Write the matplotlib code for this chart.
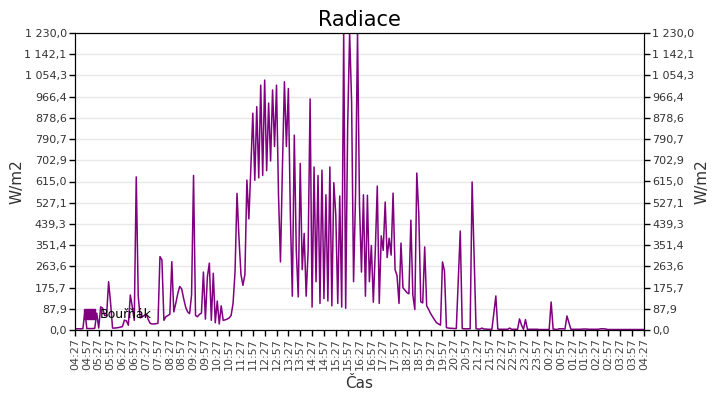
import numpy as np
import matplotlib
matplotlib.use("Agg")
import matplotlib.pyplot as plt
from matplotlib.patches import Patch

# radiation values, one every 5 minutes from 04:27 to 04:27 next day
h00 = [5, 5, 5, 5, 6, 76, 6, 6, 6, 6, 7, 70]
h01 = [8, 96, 90, 60, 60, 200, 113, 8, 8, 9, 10, 12]
h02 = [14, 41, 38, 20, 145, 96, 40, 634, 141, 50, 55, 60]
h03 = [66, 45, 28, 25, 25, 26, 28, 304, 290, 40, 55, 60]
h04 = [65, 283, 75, 110, 150, 180, 170, 130, 95, 75, 68, 145]
h05 = [640, 60, 55, 65, 70, 240, 45, 220, 277, 40, 235, 30]
h06 = [120, 25, 100, 40, 42, 45, 50, 60, 110, 240, 566, 380]
h07 = [230, 185, 230, 621, 460, 670, 898, 620, 925, 630, 1014, 640]
h08 = [1035, 660, 940, 700, 994, 760, 1014, 560, 282, 680, 1028, 760]
h09 = [1000, 480, 140, 807, 330, 137, 690, 250, 400, 140, 330, 957]
h10 = [95, 675, 200, 640, 110, 662, 130, 560, 120, 675, 100, 610]
h11 = [476, 110, 555, 95, 1230, 90, 841, 1230, 945, 200, 560, 1230]
h12 = [520, 240, 560, 140, 558, 200, 350, 115, 330, 596, 110, 390]
h13 = [330, 530, 300, 380, 310, 567, 250, 225, 110, 360, 175, 165]
h14 = [155, 150, 455, 145, 85, 650, 484, 117, 112, 344, 100, 85]
h15 = [68, 55, 42, 30, 25, 20, 282, 245, 10, 8, 7, 7]
h16 = [6, 6, 207, 410, 6, 5, 5, 5, 5, 613, 306, 5]
h17 = [4, 4, 8, 4, 4, 3, 3, 3, 70, 141, 4, 3]
h18 = [3, 3, 3, 3, 8, 3, 3, 3, 3, 46, 20, 3]
h19 = [43, 3, 3, 3, 3, 3, 3, 2, 2, 2, 2, 2]
h20 = [2, 116, 4, 3, 2, 5, 5, 5, 4, 58, 30, 3]
h21 = [3, 3, 3, 3, 3, 4, 4, 4, 3, 3, 3, 3]
h22 = [3, 3, 5, 5, 5, 3, 2, 2, 2, 2, 2, 2]
h23 = [2, 2, 2, 2, 2, 2, 2, 2, 2, 2, 2, 2, 2]

radiace = np.array(h00 + h01 + h02 + h03 + h04 + h05 + h06 + h07 + h08 + h09 + h10 + h11
                   + h12 + h13 + h14 + h15 + h16 + h17 + h18 + h19 + h20 + h21 + h22 + h23)
minuty = np.arange(len(radiace)) * 5

tick_min = np.arange(0, 1441, 30)
tick_labels = []
for m in tick_min:
    t = (4 * 60 + 27 + m) % 1440
    tick_labels.append("{:02d}:{:02d}".format(t // 60, t % 60))

ymax = 1230.0
yticks = np.linspace(0, ymax, 15)

def cz(v):
    s = "{:,.1f}".format(v)
    return s.replace(",", " ").replace(".", ",")

fig = plt.figure(figsize=(7.2, 4), dpi=100)
ax = fig.add_axes([75 / 720, 70 / 400, 569 / 720, 297 / 400])
purple = "#800080"
ax.plot(minuty, radiace, color=purple, lw=1.1)

ax.set_xlim(0, 1440)
ax.set_ylim(0, ymax)
ax.set_yticks(yticks)
ax.set_yticklabels([cz(v) for v in yticks], fontsize=8, color="#333333")
ax.set_xticks(tick_min)
ax.set_xticklabels(tick_labels, rotation=90, fontsize=8, color="#444444")
ax.tick_params(direction="out", length=4, width=1, pad=2)
ax.grid(axis="y", color="#e8e8e8", lw=1)
ax.set_axisbelow(True)

ax2 = ax.twinx()
ax2.set_ylim(0, ymax)
ax2.set_yticks(yticks)
ax2.set_yticklabels([cz(v) for v in yticks], fontsize=8, color="#333333")
ax2.tick_params(direction="out", length=4, width=1, pad=2)

ax.set_title("Radiace", fontsize=15, pad=5)
ax.set_ylabel("W/m2", fontsize=11, color="#333333", labelpad=0)
ax2.set_ylabel("W/m2", fontsize=11, color="#333333", labelpad=0)
ax.set_xlabel("Čas", fontsize=11, color="#333333", labelpad=4)

ax.legend(handles=[Patch(color=purple, label="Bouřňák")], loc="lower left",
          frameon=False, fontsize=9, handlelength=0.9, handleheight=0.9,
          borderaxespad=0.3, handletextpad=0.4)

plt.savefig("out.png", dpi=100)
